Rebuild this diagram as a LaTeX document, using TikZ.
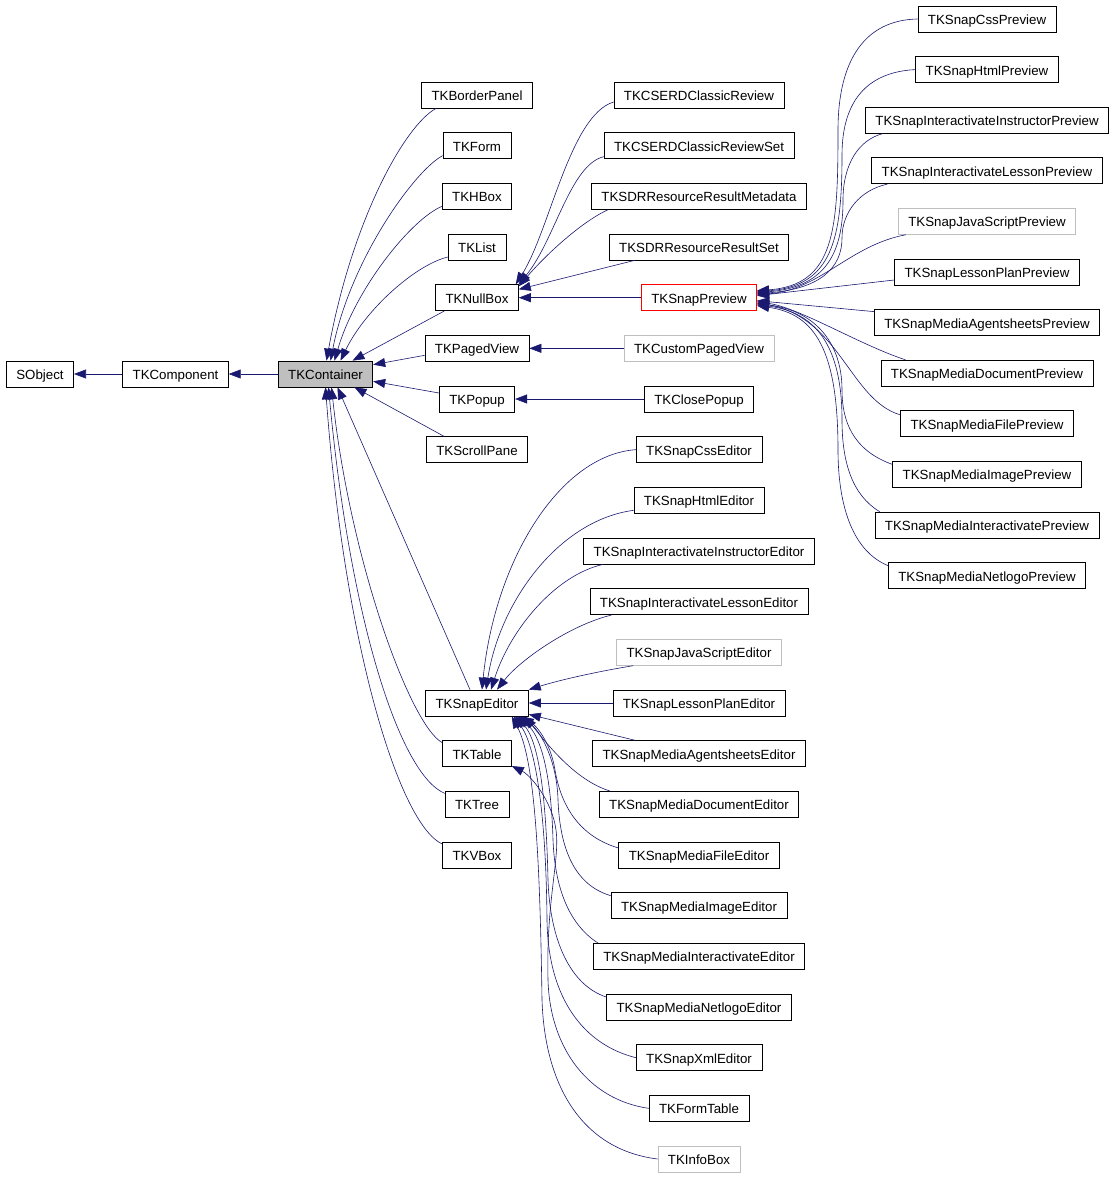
\documentclass[tikz,border=0pt]{standalone}
\usepackage{fontspec}
\setsansfont{Liberation Sans}
\newcommand{\sansall}{\sffamily}
\usetikzlibrary{arrows.meta}
\definecolor{edge}{HTML}{191970}
\definecolor{undoc}{HTML}{BFBFBF}
\definecolor{base}{HTML}{BFBFBF}
\definecolor{focus}{HTML}{FF0000}
\tikzset{
  cls/.style={draw=black, line width=0.7pt, fill=white, minimum height=26pt,
              inner xsep=10pt, inner ysep=0pt, text height=11pt, text depth=0pt,
              font=\sansall\fontsize{13.3}{15}\selectfont},
  clsext/.style={cls, draw=undoc},
  clsmain/.style={cls, draw=focus},
  clsbase/.style={cls, fill=base},
  inh/.style={-{Triangle[length=12pt,width=9pt]}, line width=0.6pt, draw=edge},
}

\begin{document}
\begin{tikzpicture}[x=1pt, y=-1pt]
  \useasboundingbox (0,0) rectangle (1114,1177);

  % root chain
  \node[cls] (sobject) at (40,374) {SObject};
  \node[cls] (tkcomponent) at (175.5,374) {TKComponent};
  \node[clsbase] (tkcontainer) at (325.5,374) {TKContainer};

  % direct subclasses of TKContainer
  \foreach \n/\t/\y in {tkborderpanel/TKBorderPanel/95, tkform/TKForm/145.67,
      tkhbox/TKHBox/196.33, tklist/TKList/247, tknullbox/TKNullBox/297.67,
      tkpagedview/TKPagedView/348.33, tkpopup/TKPopup/399,
      tkscrollpane/TKScrollPane/449.67, tksnapeditor/TKSnapEditor/703,
      tktable/TKTable/753.67, tktree/TKTree/804.33, tkvbox/TKVBox/855}
    \node[cls] (\n) at (477,\y) {\t};

  % third column
  \foreach \n/\t/\y/\s in {
      tkcserdclassicreview/TKCSERDClassicReview/95/cls,
      tkcserdclassicreviewset/TKCSERDClassicReviewSet/145.67/cls,
      tksdrresourceresultmetadata/TKSDRResourceResultMetadata/196.33/cls,
      tksdrresourceresultset/TKSDRResourceResultSet/247/cls,
      tksnappreview/TKSnapPreview/297.67/clsmain,
      tkcustompagedview/TKCustomPagedView/348.33/clsext,
      tkclosepopup/TKClosePopup/399/cls,
      tksnapcsseditor/TKSnapCssEditor/449.67/cls,
      tksnaphtmleditor/TKSnapHtmlEditor/500.33/cls,
      tksnapinteractivateinstructoreditor/TKSnapInteractivateInstructorEditor/551/cls,
      tksnapinteractivatelessoneditor/TKSnapInteractivateLessonEditor/601.67/cls,
      tksnapjavascripteditor/TKSnapJavaScriptEditor/652.33/clsext,
      tksnaplessonplaneditor/TKSnapLessonPlanEditor/703/cls,
      tksnapmediaagentsheetseditor/TKSnapMediaAgentsheetsEditor/753.67/cls,
      tksnapmediadocumenteditor/TKSnapMediaDocumentEditor/804.33/cls,
      tksnapmediafileeditor/TKSnapMediaFileEditor/855/cls,
      tksnapmediaimageeditor/TKSnapMediaImageEditor/905.67/cls,
      tksnapmediainteractivateeditor/TKSnapMediaInteractivateEditor/956.33/cls,
      tksnapmedianetlogoeditor/TKSnapMediaNetlogoEditor/1007/cls,
      tksnapxmleditor/TKSnapXmlEditor/1057.67/cls,
      tkformtable/TKFormTable/1108.33/cls,
      tkinfobox/TKInfoBox/1159/clsext}
    \node[\s] (\n) at (699,\y) {\t};

  % subclasses of TKSnapPreview
  \foreach \n/\t/\y/\s in {
      tksnapcsspreview/TKSnapCssPreview/19/cls,
      tksnaphtmlpreview/TKSnapHtmlPreview/69.6/cls,
      tksnapinteractivateinstructorpreview/TKSnapInteractivateInstructorPreview/120.2/cls,
      tksnapinteractivatelessonpreview/TKSnapInteractivateLessonPreview/170.8/cls,
      tksnapjavascriptpreview/TKSnapJavaScriptPreview/221.4/clsext,
      tksnaplessonplanpreview/TKSnapLessonPlanPreview/272/cls,
      tksnapmediaagentsheetspreview/TKSnapMediaAgentsheetsPreview/322.6/cls,
      tksnapmediadocumentpreview/TKSnapMediaDocumentPreview/373.2/cls,
      tksnapmediafilepreview/TKSnapMediaFilePreview/423.8/cls,
      tksnapmediaimagepreview/TKSnapMediaImagePreview/474.4/cls,
      tksnapmediainteractivatepreview/TKSnapMediaInteractivatePreview/525/cls,
      tksnapmedianetlogopreview/TKSnapMediaNetlogoPreview/575.6/cls}
    \node[\s] (\n) at (987,\y) {\t};

  % inheritance: root chain
  \draw[inh] (tkcomponent) -- (sobject);
  \draw[inh] (tkcontainer) -- (tkcomponent);

  % inheritance: TKContainer
  \draw[inh] ([xshift=15pt]tkborderpanel.south west) .. controls (405,125) and (352,220) .. ([xshift=1pt]tkcontainer.north);
  \draw[inh] ([yshift=-10pt]tkform.west) .. controls (415,170) and (350,260) .. ([xshift=5pt]tkcontainer.north);
  \draw[inh] ([yshift=-10pt]tkhbox.west) .. controls (410,220) and (355,290) .. ([xshift=9pt]tkcontainer.north);
  \draw[inh] ([yshift=-10pt]tklist.west) .. controls (415,265) and (365,310) .. ([xshift=15pt]tkcontainer.north);
  \draw[inh] ([xshift=9pt]tknullbox.south west) -- ([xshift=27pt]tkcontainer.north);
  \draw[inh] ([yshift=-7pt]tkpagedview.west) -- ([yshift=-4pt]tkcontainer.north east);
  \draw[inh] ([yshift=6pt]tkpopup.west) -- ([yshift=6pt]tkcontainer.south east);
  \draw[inh] ([xshift=18pt]tkscrollpane.north west) -- ([xshift=29pt]tkcontainer.south);
  \draw[inh] ([xshift=-7pt]tksnapeditor.north) -- ([xshift=12pt]tkcontainer.south);
  \draw[inh] ([yshift=11pt]tktable.west) .. controls (410,725) and (350,560) .. ([xshift=6pt]tkcontainer.south);
  \draw[inh] ([yshift=11pt]tktree.west) .. controls (400,775) and (350,620) .. ([xshift=3pt]tkcontainer.south);
  \draw[inh] ([yshift=11pt]tkvbox.west) .. controls (400,825) and (345,650) .. (tkcontainer.south);

  % inheritance: TKNullBox, TKPagedView, TKPopup
  \draw[inh] ([yshift=-7pt]tkcserdclassicreview.west) .. controls (570,115) and (550,230) .. ([xshift=-3pt]tknullbox.north east);
  \draw[inh] ([yshift=-11pt]tkcserdclassicreviewset.west) .. controls (570,165) and (555,240) .. (tknullbox.north east);
  \draw[inh] ([xshift=17pt]tksdrresourceresultmetadata.south west) .. controls (585,220) and (550,250) .. ([yshift=-2pt]tknullbox.north east);
  \draw[inh] ([xshift=26pt]tksdrresourceresultset.south west) -- ([yshift=-5pt]tknullbox.north east);
  \draw[inh] (tksnappreview) -- (tknullbox);
  \draw[inh] (tkcustompagedview) -- (tkpagedview);
  \draw[inh] (tkclosepopup) -- (tkpopup);

  % inheritance: TKSnapPreview
  \draw[inh] (tksnapcsspreview.west) .. controls (865,20) and (838,60) .. (838,130) .. controls (838,230) and (835,285) .. ([yshift=7pt]tksnappreview.east);
  \draw[inh] (tksnaphtmlpreview.west) .. controls (868,72) and (842,100) .. (842,155) .. controls (842,240) and (832,286) .. ([yshift=6pt]tksnappreview.east);
  \draw[inh] ([xshift=18pt]tksnapinteractivateinstructorpreview.south west) .. controls (858,140) and (843,165) .. (843,200) .. controls (843,250) and (828,287) .. ([yshift=5pt]tksnappreview.east);
  \draw[inh] ([xshift=16pt]tksnapinteractivatelessonpreview.south west) .. controls (860,190) and (842,212) .. (842,238) .. controls (842,268) and (820,289) .. ([yshift=4pt]tksnappreview.east);
  \draw[inh] ([xshift=8pt]tksnapjavascriptpreview.south west) .. controls (850,245) and (820,290) .. ([yshift=3pt]tksnappreview.east);
  \draw[inh] ([yshift=-8pt]tksnaplessonplanpreview.west) -- ([yshift=2pt]tksnappreview.east);
  \draw[inh] ([yshift=11pt]tksnapmediaagentsheetspreview.west) -- ([yshift=-3pt]tksnappreview.east);
  \draw[inh] ([xshift=25pt]tksnapmediadocumentpreview.north west) .. controls (860,345) and (800,308) .. ([yshift=-4pt]tksnappreview.east);
  \draw[inh] ([yshift=9pt]tksnapmediafilepreview.west) .. controls (850,400) and (840,318) .. ([yshift=-5pt]tksnappreview.east);
  \draw[inh] ([yshift=10pt]tksnapmediaimagepreview.west) .. controls (852,450) and (842,420) .. (842,390) .. controls (842,340) and (812,310) .. ([yshift=-6pt]tksnappreview.east);
  \draw[inh] ([xshift=5pt]tksnapmediainteractivatepreview.north west) .. controls (852,495) and (842,462) .. (842,420) .. controls (842,345) and (815,312) .. ([yshift=-7pt]tksnappreview.east);
  \draw[inh] ([yshift=10pt]tksnapmedianetlogopreview.west) .. controls (850,550) and (838,500) .. (838,450) .. controls (838,350) and (815,314) .. ([yshift=-8pt]tksnappreview.east);

  % inheritance: TKSnapEditor
  \draw[inh] (tksnapcsseditor.west) .. controls (560,455) and (495,560) .. ([xshift=5pt]tksnapeditor.north);
  \draw[inh] ([yshift=-10pt]tksnaphtmleditor.west) .. controls (560,520) and (500,600) .. ([xshift=9pt]tksnapeditor.north);
  \draw[inh] ([xshift=20pt]tksnapinteractivateinstructoreditor.south west) .. controls (555,575) and (510,630) .. ([xshift=14pt]tksnapeditor.north);
  \draw[inh] ([xshift=22pt]tksnapinteractivatelessoneditor.south west) .. controls (570,625) and (520,660) .. ([xshift=20pt]tksnapeditor.north);
  \draw[inh] ([xshift=17pt]tksnapjavascripteditor.south west) .. controls (595,672) and (560,680) .. (tksnapeditor.north east);
  \draw[inh] (tksnaplessonplaneditor) -- (tksnapeditor);
  \draw[inh] ([xshift=43pt]tksnapmediaagentsheetseditor.north west) -- ([yshift=2pt]tksnapeditor.south east);
  \draw[inh] ([xshift=11pt]tksnapmediadocumenteditor.north west) .. controls (575,780) and (548,745) .. ([xshift=-4pt]tksnapeditor.south east);
  \draw[inh] ([yshift=7pt]tksnapmediafileeditor.west) .. controls (575,835) and (560,800) .. (555,770) .. controls (550,740) and (535,725) .. ([xshift=-7pt]tksnapeditor.south east);
  \draw[inh] ([yshift=10pt]tksnapmediaimageeditor.west) .. controls (575,885) and (560,850) .. (558,800) .. controls (557,760) and (540,730) .. ([xshift=-9pt]tksnapeditor.south east);
  \draw[inh] ([xshift=5pt]tksnapmediainteractivateeditor.north west) .. controls (570,925) and (555,890) .. (553,840) .. controls (551,770) and (540,735) .. ([xshift=-11pt]tksnapeditor.south east);
  \draw[inh] ([yshift=10pt]tksnapmedianetlogoeditor.west) .. controls (570,985) and (550,940) .. (548,880) .. controls (546,790) and (538,740) .. ([xshift=-13pt]tksnapeditor.south east);
  \draw[inh] (tksnapxmleditor.west) .. controls (585,1045) and (548,1000) .. (547,920) .. controls (546,810) and (535,745) .. ([xshift=-15pt]tksnapeditor.south east);
  \draw[inh] (tkinfobox.west) .. controls (585,1150) and (545,1090) .. (542,1000) .. controls (540,860) and (535,760) .. ([xshift=-17pt]tksnapeditor.south east);

  % inheritance: TKTable
  \draw[inh] (tkformtable.west) .. controls (590,1100) and (550,1050) .. (548,980) .. controls (546,900) and (560,860) .. (556,830) .. controls (552,800) and (530,775) .. ([yshift=1pt]tktable.south east);
\end{tikzpicture}
\end{document}
